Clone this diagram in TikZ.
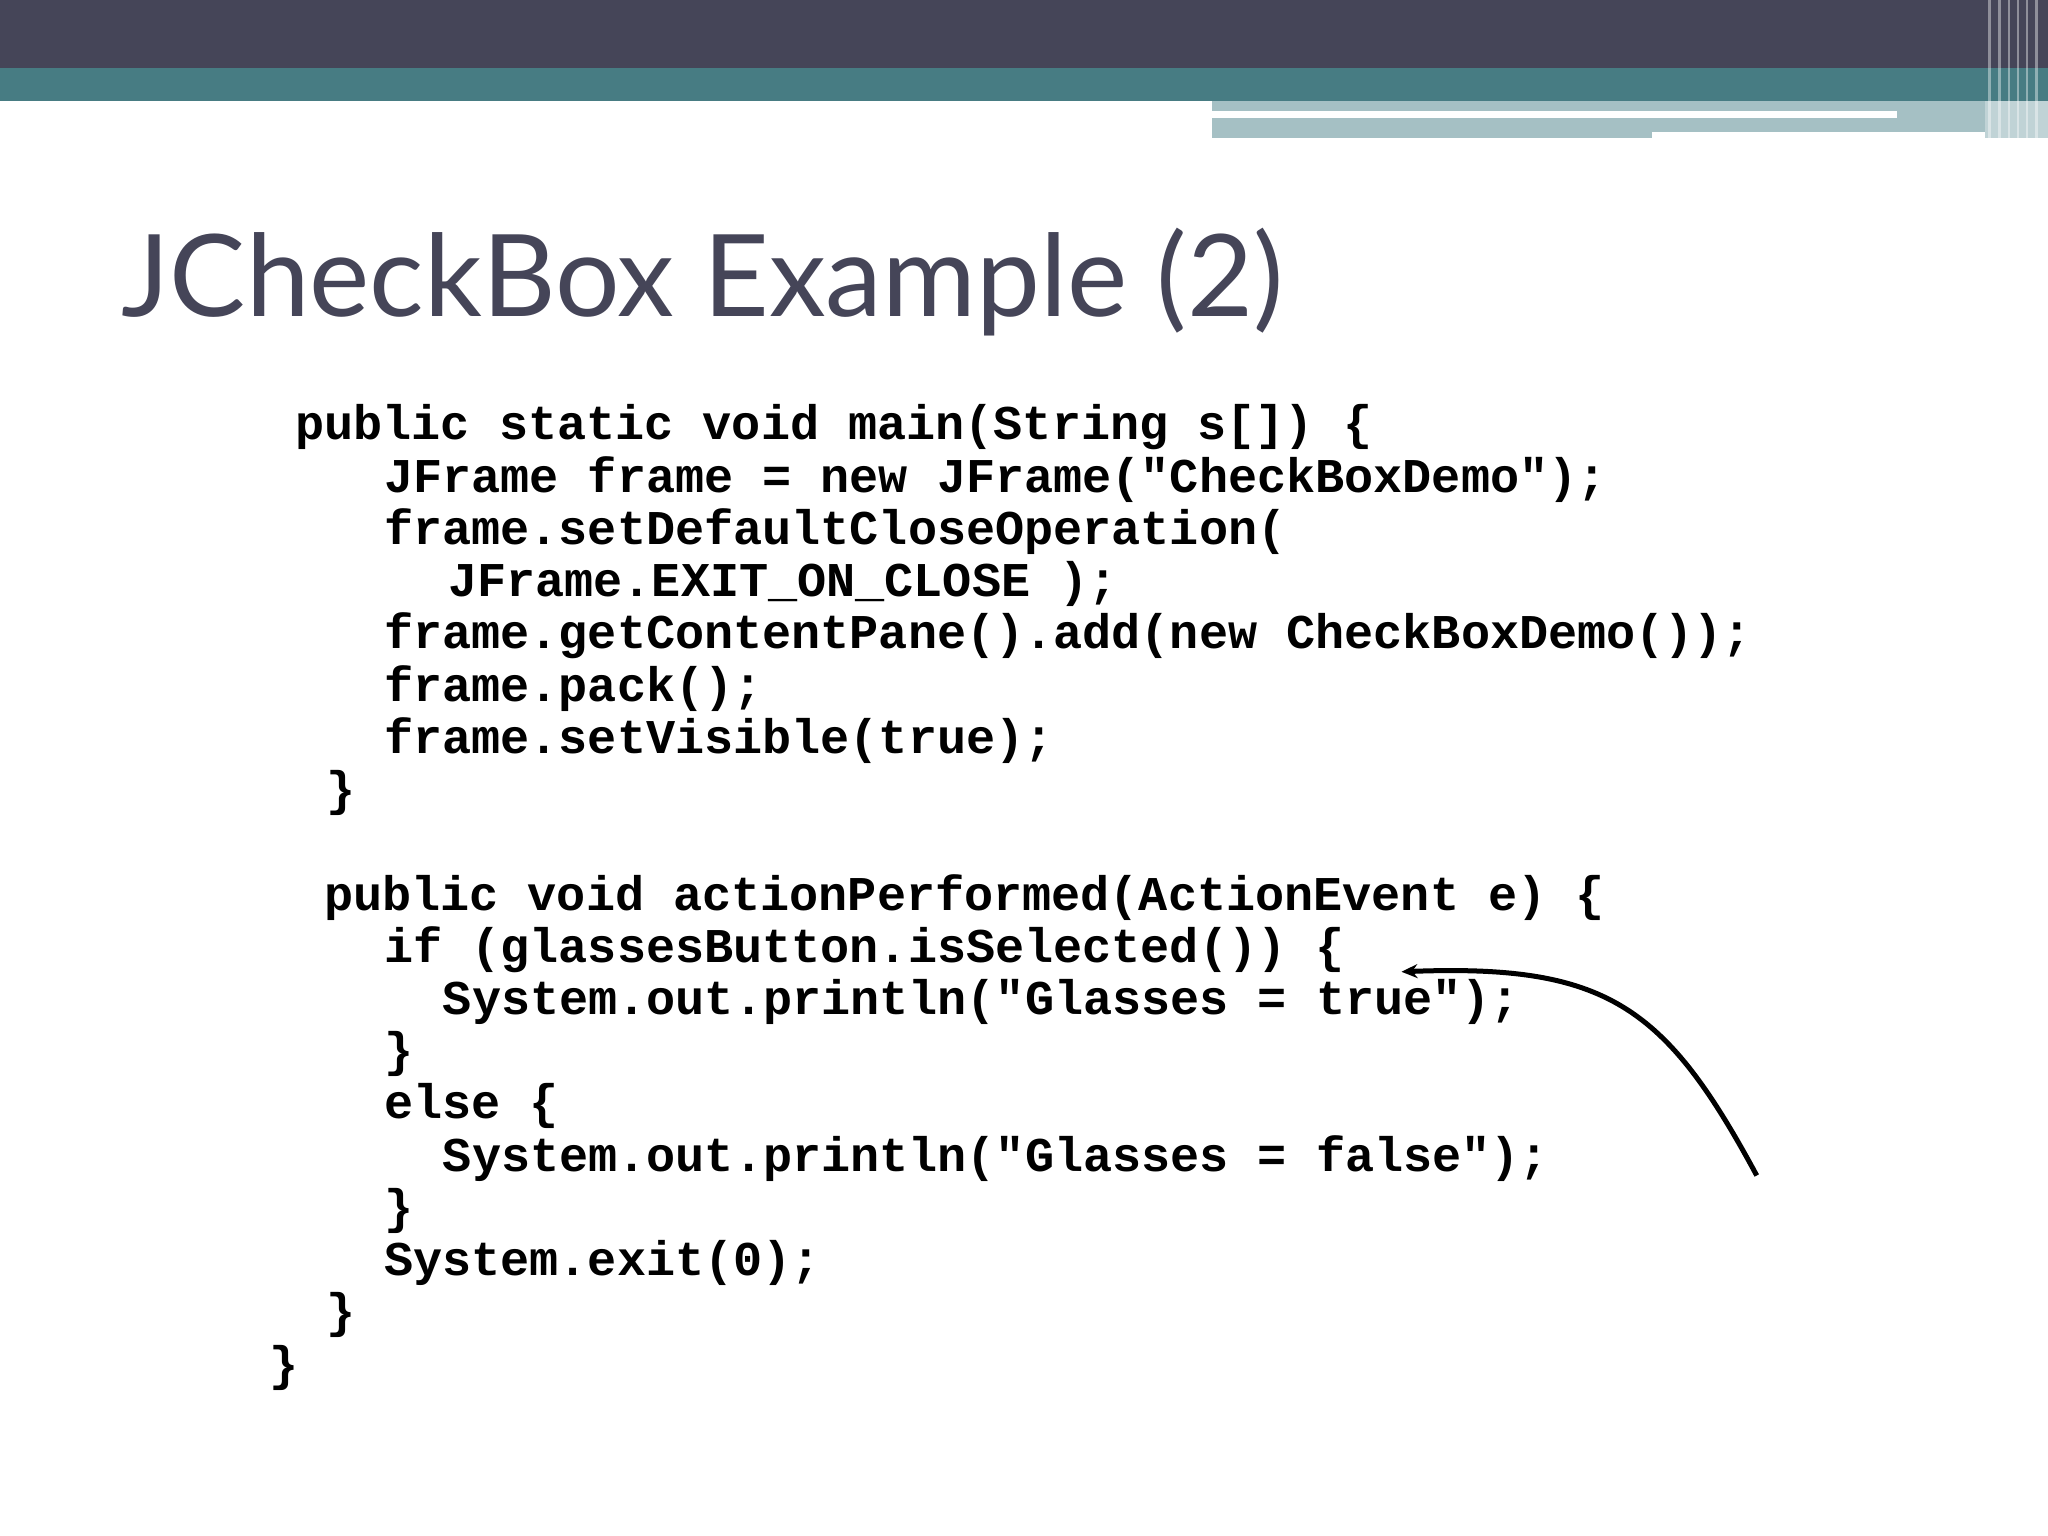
\documentclass[tikz,border=0pt]{standalone}
\usepackage{fontspec}
\usetikzlibrary{arrows.meta}
\setmainfont{Lato}
\setmonofont{Liberation Mono}
\definecolor{dark}{HTML}{454558}
\definecolor{teal}{HTML}{477C83}
\definecolor{lite}{HTML}{A5C0C4}
\begin{document}
\begin{tikzpicture}[x=1.306pt,y=-1.306pt,
  code/.style={anchor=west,inner sep=0pt,font=\fontsize{48.5pt}{52pt}\ttfamily\bfseries}]
\useasboundingbox (0,0) rectangle (1568,1176);
% banner
\fill[lite] (0,68) rectangle (928,77);
\fill[lite] (928,77) rectangle (1520,101);
\fill[lite] (928,101) rectangle (1265,106);
\fill[white] (928,85) rectangle (1452,90);
\fill[dark] (0,0) rectangle (1568,52);
\fill[teal] (0,52) rectangle (1568,77);
\fill[lite!70!white] (1520,77) rectangle (1568,106);
\foreach \x in {1522,1530,1537,1544,1551,1558}{\fill[white,opacity=0.4] (\x,0) rectangle (\x+2,106);}
\node[anchor=base west,inner sep=0pt,text=dark,font=\fontsize{114pt}{120pt}\selectfont] (title) at (93,242) {JCheckBox Example (2)};
\node[code] (l1) at (226,327) {public static void main(String s[]) \{};
\node[code] (l2) at (294,367) {JFrame frame = new JFrame("CheckBoxDemo");};
\node[code] (l3) at (294,407) {frame.setDefaultCloseOperation(};
\node[code] (l4) at (343,447) {JFrame.EXIT\_ON\_CLOSE );};
\node[code] (l5) at (294,487) {frame.getContentPane().add(new CheckBoxDemo());};
\node[code] (l6) at (294,527) {frame.pack();};
\node[code] (l7) at (294,567) {frame.setVisible(true);};
\node[code] (l8) at (250,607) {\}};
\node[code] (l9) at (248,687) {public void actionPerformed(ActionEvent e) \{};
\node[code] (l10) at (294,727) {if (glassesButton.isSelected()) \{};
\node[code] (l11) at (339,767) {System.out.println("Glasses = true");};
\node[code] (l12) at (294,807) {\}};
\node[code] (l13) at (294,847) {else \{};
\node[code] (l14) at (339,887) {System.out.println("Glasses = false");};
\node[code] (l15) at (294,927) {\}};
\node[code] (l16) at (294,967) {System.exit(0);};
\node[code] (l17) at (250,1007) {\}};
\node[code] (l18) at (206,1047) {\}};
\coordinate (s) at (1345,900);
\coordinate (t) at (1073,744);
\draw[line width=5pt,-{Stealth[length=16pt,width=14pt]}] (s) .. controls (1275,770) and (1230,738) .. (t);
\end{tikzpicture}
\end{document}
